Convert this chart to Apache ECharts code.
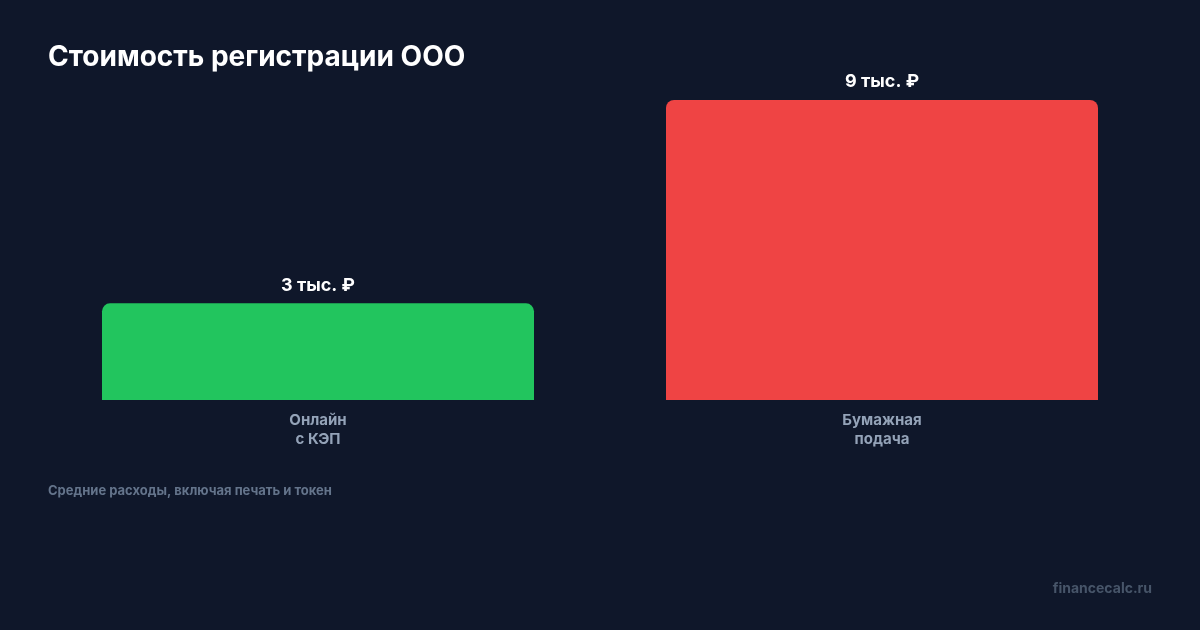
<!DOCTYPE html>
<html><head><meta charset="utf-8">
<script src="https://cdn.jsdelivr.net/npm/echarts@6/dist/echarts.min.js"></script>
<style>html,body{margin:0;padding:0;background:#0f172a}#c{width:1200px;height:630px}</style>
</head><body><div id="c"></div>
<script>
const categories = ['Онлайн\nс КЭП', 'Бумажная\nподача'];
const values = [2900, 9000];
const valueLabels = ['3 тыс. ₽', '9 тыс. ₽'];
const barColors = ['#22c55e', '#ef4444'];

const chart = echarts.init(document.getElementById('c'));
chart.setOption({
  backgroundColor: '#0f172a',
  animation: false,
  title: {
    text: 'Стоимость регистрации ООО',
    left: 43, top: 39,
    textStyle: { color: '#ffffff', fontFamily: 'Inter', fontWeight: 'bold', fontSize: 28 }
  },
  grid: { left: 36, right: 36, top: 100, height: 300 },
  xAxis: {
    type: 'category', data: categories,
    axisLine: { show: false }, axisTick: { show: false },
    axisLabel: { color: '#94a3b8', fontFamily: 'Inter', fontWeight: 'bold', fontSize: 15, lineHeight: 19, margin: 11 }
  },
  yAxis: { type: 'value', min: 0, max: 9000, show: false, splitLine: { show: false } },
  series: [{
    type: 'bar', barWidth: 432,
    data: values.map((v, i) => ({ value: v, itemStyle: { color: barColors[i], borderRadius: [8, 8, 0, 0] } })),
    label: {
      show: true, position: 'top', distance: 9,
      formatter: p => valueLabels[p.dataIndex],
      color: '#ffffff', fontFamily: 'Inter', fontWeight: 'bold', fontSize: 18
    }
  }],
  graphic: [
    { type: 'text', left: 48, top: 485, style: { text: 'Средние расходы, включая печать и токен', fill: '#64748b', font: 'bold 13px Inter' } },
    { type: 'text', right: 48, top: 582, style: { text: 'financecalc.ru', fill: '#475569', font: 'bold 14px Inter' } }
  ]
});
</script></body></html>
